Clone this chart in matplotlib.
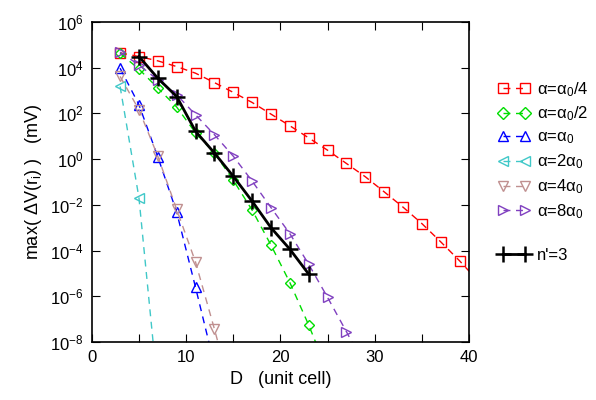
import matplotlib
matplotlib.use("Agg")
import matplotlib.pyplot as plt
from matplotlib.lines import Line2D
import numpy as np

plt.rcParams['font.family'] = ['Liberation Sans', 'DejaVu Sans']
plt.rcParams['mathtext.fontset'] = 'custom'
plt.rcParams['mathtext.rm'] = 'Liberation Sans'
plt.rcParams['mathtext.it'] = 'Liberation Sans'
plt.rcParams['mathtext.default'] = 'regular'

# log10 of max(dV)
d_quarter = [3, 5, 7, 9, 11, 13, 15, 17, 19, 21, 23, 25, 27, 29, 31, 33, 35, 37, 39, 41]
v_quarter = [4.65, 4.49, 4.30, 4.05, 3.76, 3.35, 2.92, 2.48, 1.97, 1.46, 0.93, 0.39,
             -0.19, -0.77, -1.43, -2.10, -2.82, -3.62, -4.45, -5.35]

d_half = [3, 5, 7, 9, 11, 13, 15, 17, 19, 21, 23, 25]
v_half = [4.63, 3.94, 3.11, 2.28, 1.15, 0.27, -0.92, -2.23, -3.76, -5.40, -7.26, -9.3]

d_one = [3, 5, 7, 9, 11, 13]
v_one = [3.98, 2.38, 0.10, -2.32, -5.61, -9.0]

d_two = [3, 5, 7]
v_two = [3.18, -1.69, -10.1]

d_four = [3, 5, 7, 9, 11, 13, 15]
v_four = [3.62, 2.16, 0.13, -2.20, -4.50, -7.43, -10.5]

d_eight = [3, 5, 7, 9, 11, 13, 15, 17, 19, 21, 23, 25, 27, 29]
v_eight = [4.68, 4.12, 3.47, 2.82, 1.94, 1.07, 0.13, -0.96, -2.12, -3.26, -4.60,
           -6.05, -7.55, -9.1]

d_n3 = [5, 7, 9, 11, 13, 15, 17, 19, 21, 23]
v_n3 = [4.49, 3.54, 2.74, 1.22, 0.27, -0.75, -1.84, -3.0, -3.94, -5.03]

series = [
    (d_quarter, v_quarter, '#ff0000', 's', r'α=α$_0$/4'),
    (d_half, v_half, '#00dd00', 'D', r'α=α$_0$/2'),
    (d_one, v_one, '#0000ff', '^', r'α=α$_0$'),
    (d_two, v_two, '#40c8c8', '<', r'α=2α$_0$'),
    (d_four, v_four, '#c09090', 'v', r'α=4α$_0$'),
    (d_eight, v_eight, '#8040c0', '>', r'α=8α$_0$'),
]

fig = plt.figure(figsize=(5.96, 4.0), dpi=100)
ax = fig.add_axes([0.154, 0.145, 0.633, 0.80])

handles = []
for d, v, c, m, lab in series:
    ms = 5.5 if m == 'D' else 7.5
    h, = ax.plot(d, 10.0 ** np.array(v), color=c, linestyle=(0, (5, 4)), linewidth=1.0,
                 marker=m, markersize=ms, markerfacecolor='none', markeredgecolor=c,
                 markeredgewidth=1.0, label=lab)
    handles.append(h)

h3, = ax.plot(d_n3, 10.0 ** np.array(v_n3), color='black', linewidth=2.0, marker='+',
              markersize=11, markeredgewidth=1.8, label="n'=3")
spacer = Line2D([], [], linestyle='none', marker='none', label=' ')
handles += [spacer, h3]

ax.set_yscale('log')
ax.set_xlim(0, 40)
ax.set_ylim(1e-8, 1e6)
ax.set_xticks(np.arange(0, 41, 5))
ax.set_xticklabels([str(t) if t % 10 == 0 else '' for t in range(0, 41, 5)])
yt = [10.0 ** k for k in range(-8, 7, 2)]
ax.set_yticks(yt)
ax.set_yticklabels([r'10$^{%d}$' % k for k in range(-8, 7, 2)])
ax.yaxis.set_minor_locator(matplotlib.ticker.NullLocator())
ax.tick_params(direction='in', top=True, right=True, length=6, labelsize=12, pad=6)
for s in ax.spines.values():
    s.set_linewidth(1.2)

ax.set_xlabel('D   (unit cell)', fontsize=13)
ax.set_ylabel(r'max( ΔV(r$_i$) )   (mV)', fontsize=13)

leg = fig.legend(handles=handles, loc='upper left', bbox_to_anchor=(0.824, 0.817),
                 frameon=False, numpoints=2, fontsize=12, handlelength=1.92,
                 handletextpad=0.42, labelspacing=0.37, borderpad=0.4,
                 borderaxespad=0)
for lh in leg.legend_handles:
    if lh.get_marker() not in ('+', 'none', 'None', None):
        lh.set_markersize(6.5)

fig.savefig('out.png', dpi=100)
